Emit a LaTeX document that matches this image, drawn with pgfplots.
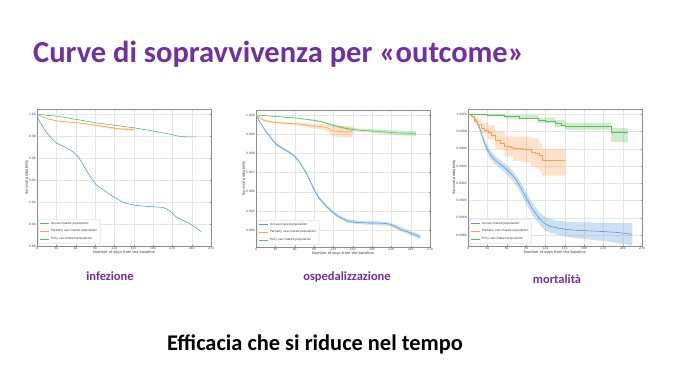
\documentclass[border=0pt]{standalone}
\usepackage{fontspec}
\setmainfont{Carlito}
\newfontfamily\plotfont{DejaVu Sans}
\usepackage{pgfplots}
\usepackage{pgfplotstable}
\pgfplotsset{compat=1.18}
\definecolor{kmblue}{HTML}{5A9BD5}
\definecolor{kmorange}{HTML}{FF9F50}
\definecolor{kmgreen}{HTML}{5CBF5C}
\definecolor{titlepurple}{HTML}{7030A0}

% ---------------- infezione ----------------
\pgfplotstableread{
x y
0 1.0
2 0.996
4 0.9935
7 0.9908
10 0.9880
14 0.9840
20 0.9800
25 0.9768
30 0.9740
40 0.9712
50 0.9680
57 0.9655
63 0.9620
70 0.9560
76 0.9495
84 0.9420
92 0.9357
100 0.9325
107 0.9296
115 0.9262
123 0.9235
130 0.9210
138 0.9190
146 0.9178
154 0.9170
170 0.9162
180 0.9158
195 0.9152
200 0.9143
208 0.9110
216 0.9066
226 0.9035
237 0.9005
246 0.8970
255 0.8930
}\infU
\pgfplotstableread{
x y
0 1.0
10 0.9975
20 0.9955
30 0.9942
45 0.9932
60 0.9926
75 0.9916
92 0.9900
110 0.9885
123 0.9872
135 0.9866
150 0.9863
}\infP
\pgfplotstableread{
x y
0 1.0
30 0.9985
61 0.9955
90 0.9925
123 0.9900
151 0.9878
169 0.9860
190 0.9838
205 0.9822
221 0.9800
235 0.9795
247 0.9795
}\infF

% ---------------- ospedalizzazione ----------------
\pgfplotstableread{
x y
0 1.0
4 0.99975
9 0.99948
14 0.99920
20 0.99896
25 0.99872
30 0.99852
38 0.99833
46 0.99817
53 0.99803
58 0.99791
63 0.99775
68 0.99752
73 0.99725
77 0.99704
82 0.99670
87 0.99635
92 0.99600
97 0.99572
103 0.99548
110 0.99522
118 0.99496
126 0.99476
134 0.99461
141 0.99450
149 0.99443
160 0.99440
175 0.99438
190 0.99437
201 0.99435
207 0.99432
212 0.99426
220 0.99413
227 0.99400
235 0.99392
242 0.99383
249 0.99374
255 0.99365
}\hosU
\pgfplotstableread{
x y
0 1.0
5 0.99988
10 0.99976
14 0.99970
25 0.99963
35 0.99960
50 0.99956
66 0.99953
75 0.99950
80 0.99946
87 0.99943
100 0.99940
108 0.99936
113 0.99930
118 0.99918
125 0.99915
134 0.99913
150 0.99913
}\hosP
\pgfplotstableread{
x y
0 1.0
20 0.99995
35 0.99991
60 0.99985
87 0.99974
100 0.99966
110 0.99956
118 0.99948
130 0.99938
140 0.99930
149 0.99925
160 0.99921
175 0.99918
195 0.99913
212 0.99908
230 0.99906
248 0.99904
}\hosF

% ---------------- mortalita ----------------
\pgfplotstableread{
x y
0 1.0
5 0.99999
10 0.99996
14 0.99991
18 0.99984
22 0.99975
26 0.99966
30 0.99959
34 0.99954
38 0.99950
42 0.99947
47 0.99944
52 0.99941
60 0.99936
68 0.99930
74 0.99925
78 0.99920
84 0.99912
89 0.99905
95 0.99897
100 0.99890
104 0.99886
110 0.99880
115 0.99876
120 0.99873
128 0.99870
135 0.99869
150 0.99867
162 0.99866
188 0.99865
214 0.99864
235 0.99863
255 0.99861
}\morU
\pgfplotstableread{
x y
0 1.0
5 0.99997
10 0.99992
15 0.99988
21 0.99984
26 0.99981
31 0.99979
36 0.99975
42 0.99970
50 0.99966
57 0.99963
65 0.99962
70 0.99960
78 0.99960
85 0.99959
94 0.99959
98 0.99956
104 0.99955
110 0.99952
115 0.99947
151 0.99947
}\morP
\pgfplotstableread{
x y
0 1.0
30 0.99999
57 0.99997
80 0.99995
109 0.99993
120 0.99992
135 0.99989
145 0.99987
151 0.99986
221 0.99986
222 0.99979
248 0.99979
}\morF

\pgfplotsset{legend image code/.code={\draw[#1] (0pt,0pt) -- (9pt,0pt);}}
\pgfplotsset{
  km/.style={
    scale only axis, width=174pt, height=137pt,
    xmin=0, xmax=270, xtick={0,30,...,270},
    grid=major, grid style={black!10, line width=0.3pt},
    axis line style={black!45, line width=0.4pt},
    major tick length=1pt, tick style={black!45, line width=0.3pt},
    ticklabel style={font=\plotfont\fontsize{3}{3.5}\selectfont, text=black!75, inner sep=1pt},
    /pgf/number format/assume math mode=true,
    xlabel={Number of days from the baseline},
    ylabel={Survival probability},
    label style={font=\plotfont\fontsize{3.6}{4}\selectfont, text=black!80},
    xlabel style={yshift=3.5pt},
    ylabel style={yshift=-4pt},
    legend style={at={(0.01,0.015)}, anchor=south west,
      font=\plotfont\fontsize{3}{3.6}\selectfont, text=black!80,
      draw=black!20, rounded corners=1pt, inner sep=0.6pt,
      fill=white},
    legend cell align=left,
    every axis plot/.append style={line width=0.6pt},
  },
  kmband/.style={fill=#1, fill opacity=0.3, draw=none, forget plot, line width=0pt},
}

\begin{document}
\begin{tikzpicture}
\path[use as bounding box, fill=white] (0pt,0pt) rectangle (680pt,383pt);

\node[anchor=base west, text=titlepurple, font=\fontsize{30.5}{36}\selectfont\bfseries, inner sep=0pt]
  at (33pt,320pt) {Curve di sopravvivenza per «outcome»};

% ---- plot 1 ----
\begin{axis}[km, at={(37pt,137pt)}, anchor=south west,
  ymin=0.88, ymax=1.005, ytick={0.88,0.90,0.92,0.94,0.96,0.98,1.00},
  yticklabel style={/pgf/number format/.cd, fixed, fixed zerofill, precision=2}]
  \addplot[kmband=kmorange] coordinates {(0,1.0) (30,0.9946) (60,0.9931) (92,0.9907) (123,0.9882) (150,0.9875)
    (150,0.9851) (123,0.9862) (92,0.9893) (60,0.9921) (30,0.9938) (0,1.0)};
  \addplot[kmblue] table[x=x,y=y] {\infU};
  \addlegendentry{Unvaccinated population}
  \addplot[kmorange] table[x=x,y=y] {\infP};
  \addlegendentry{Partially vaccinated population}
  \addplot[kmgreen] table[x=x,y=y] {\infF};
  \addlegendentry{Fully vaccinated population}
\end{axis}

% ---- plot 2 ----
\begin{axis}[km, at={(256pt,136pt)}, anchor=south west,
  ymin=0.99313, ymax=1.00026,
  ytick={0.994,0.995,0.996,0.997,0.998,0.999,1.000},
  yticklabel style={/pgf/number format/.cd, fixed, fixed zerofill, precision=3}]
  \addplot[kmband=kmblue] coordinates {(0,1.0) (9,0.99951) (20,0.99900) (30,0.99857) (46,0.99823) (58,0.99797)
    (68,0.99759) (77,0.99711) (87,0.99642) (97,0.99580) (110,0.99530) (126,0.99485) (141,0.99459)
    (160,0.99449) (190,0.99447) (207,0.99442) (220,0.99424) (235,0.99403) (255,0.99377)
    (255,0.99353) (235,0.99381) (220,0.99402) (207,0.99422) (190,0.99427) (160,0.99431) (141,0.99441)
    (126,0.99467) (110,0.99514) (97,0.99564) (87,0.99628) (77,0.99697) (68,0.99745) (58,0.99785)
    (46,0.99811) (30,0.99847) (20,0.99892) (9,0.99945) (0,1.0)};
  \addplot[kmband=kmorange] coordinates {(0,1.0) (10,0.99980) (25,0.99968) (50,0.99962) (75,0.99958) (87,0.99955)
    (108,0.99951) (118,0.99943) (150,0.99942)
    (150,0.99883) (134,0.99883) (118,0.99890) (113,0.99912) (108,0.99921) (87,0.99931) (75,0.99942)
    (50,0.99950) (25,0.99958) (10,0.99972) (0,1.0)};
  \addplot[kmband=kmgreen] coordinates {(0,1.0) (60,0.99987) (100,0.99970) (118,0.99953) (140,0.99937) (160,0.99929)
    (195,0.99923) (230,0.99918) (248,0.99917)
    (248,0.99891) (230,0.99894) (195,0.99903) (160,0.99913) (140,0.99923) (118,0.99943) (100,0.99962)
    (60,0.99983) (0,1.0)};
  \addplot[kmblue] table[x=x,y=y] {\hosU};
  \addlegendentry{Unvaccinated population}
  \addplot[kmorange] table[x=x,y=y] {\hosP};
  \addlegendentry{Partially vaccinated population}
  \addplot[kmgreen] table[x=x,y=y] {\hosF};
  \addlegendentry{Fully vaccinated population}
\end{axis}

% ---- plot 3 ----
\begin{axis}[km, at={(468pt,137pt)}, anchor=south west,
  ymin=0.998475, ymax=1.00006,
  ytick={0.9986,0.9988,0.9990,0.9992,0.9994,0.9996,0.9998,1.0000},
  yticklabel style={/pgf/number format/.cd, fixed, fixed zerofill, precision=4}]
  \addplot[kmband=kmblue] coordinates {(0,1.0) (10,0.99997) (18,0.99987) (26,0.99970) (34,0.99959) (42,0.99952)
    (52,0.99946) (68,0.99936) (78,0.99926) (89,0.99912) (100,0.99897) (110,0.99887) (120,0.99881)
    (135,0.99877) (162,0.99875) (255,0.99874)
    (255,0.99848) (214,0.99853) (162,0.99857) (135,0.99861) (120,0.99865) (110,0.99873) (100,0.99883)
    (89,0.99898) (78,0.99914) (68,0.99924) (52,0.99936) (42,0.99942) (34,0.99949) (26,0.99962)
    (18,0.99981) (10,0.99995) (0,1.0)};
  \addplot[kmband=kmorange] coordinates {(0,1.0) (10,1.0) (10,0.99995) (21,0.99995) (21,0.99990) (31,0.99990)
    (31,0.99987) (42,0.99987) (42,0.99980) (57,0.99980) (57,0.99975) (70,0.99975) (70,0.99974)
    (98,0.99974) (98,0.99972) (110,0.99972) (110,0.99966) (115,0.99966) (115,0.99960) (151,0.99960)
    (151,0.99929) (115,0.99929) (115,0.99934) (110,0.99934) (110,0.99937) (104,0.99937) (104,0.99940)
    (98,0.99940) (98,0.99944) (85,0.99944) (85,0.99946) (70,0.99946) (70,0.99951) (57,0.99951)
    (57,0.99960) (42,0.99960) (42,0.99971) (31,0.99971) (31,0.99978) (21,0.99978) (21,0.99989)
    (10,0.99989) (10,1.0) (0,1.0)};
  \addplot[kmband=kmgreen] coordinates {(0,1.0) (57,1.0) (57,0.99999) (109,0.99999) (109,0.99996) (135,0.99996)
    (135,0.99993) (151,0.99993) (151,0.99990) (222,0.99990) (222,0.99984) (248,0.99984)
    (248,0.99968) (222,0.99968) (222,0.99982) (151,0.99982) (151,0.99985) (135,0.99985) (135,0.99990)
    (109,0.99990) (109,0.99995) (57,0.99995) (57,0.99998) (0,1.0)};
  \addplot[kmblue] table[x=x,y=y] {\morU};
  \addlegendentry{Unvaccinated population}
  \addplot[kmorange, const plot] table[x=x,y=y] {\morP};
  \addlegendentry{Partially vaccinated population}
  \addplot[kmgreen, const plot] table[x=x,y=y] {\morF};
  \addlegendentry{Fully vaccinated population}
\end{axis}

\node[anchor=base, text=titlepurple, font=\fontsize{12.5}{15}\selectfont\bfseries, inner sep=0pt] at (110pt,102pt) {infezione};
\node[anchor=base, text=titlepurple, font=\fontsize{12.5}{15}\selectfont\bfseries, inner sep=0pt] at (347pt,102pt) {ospedalizzazione};
\node[anchor=base, text=titlepurple, font=\fontsize{12.5}{15}\selectfont\bfseries, inner sep=0pt] at (557pt,99pt) {mortalità};

\node[anchor=base, text=black, font=\fontsize{22.4}{26}\selectfont\bfseries, inner sep=0pt] at (315pt,33pt) {Efficacia che si riduce nel tempo};
\end{tikzpicture}
\end{document}
